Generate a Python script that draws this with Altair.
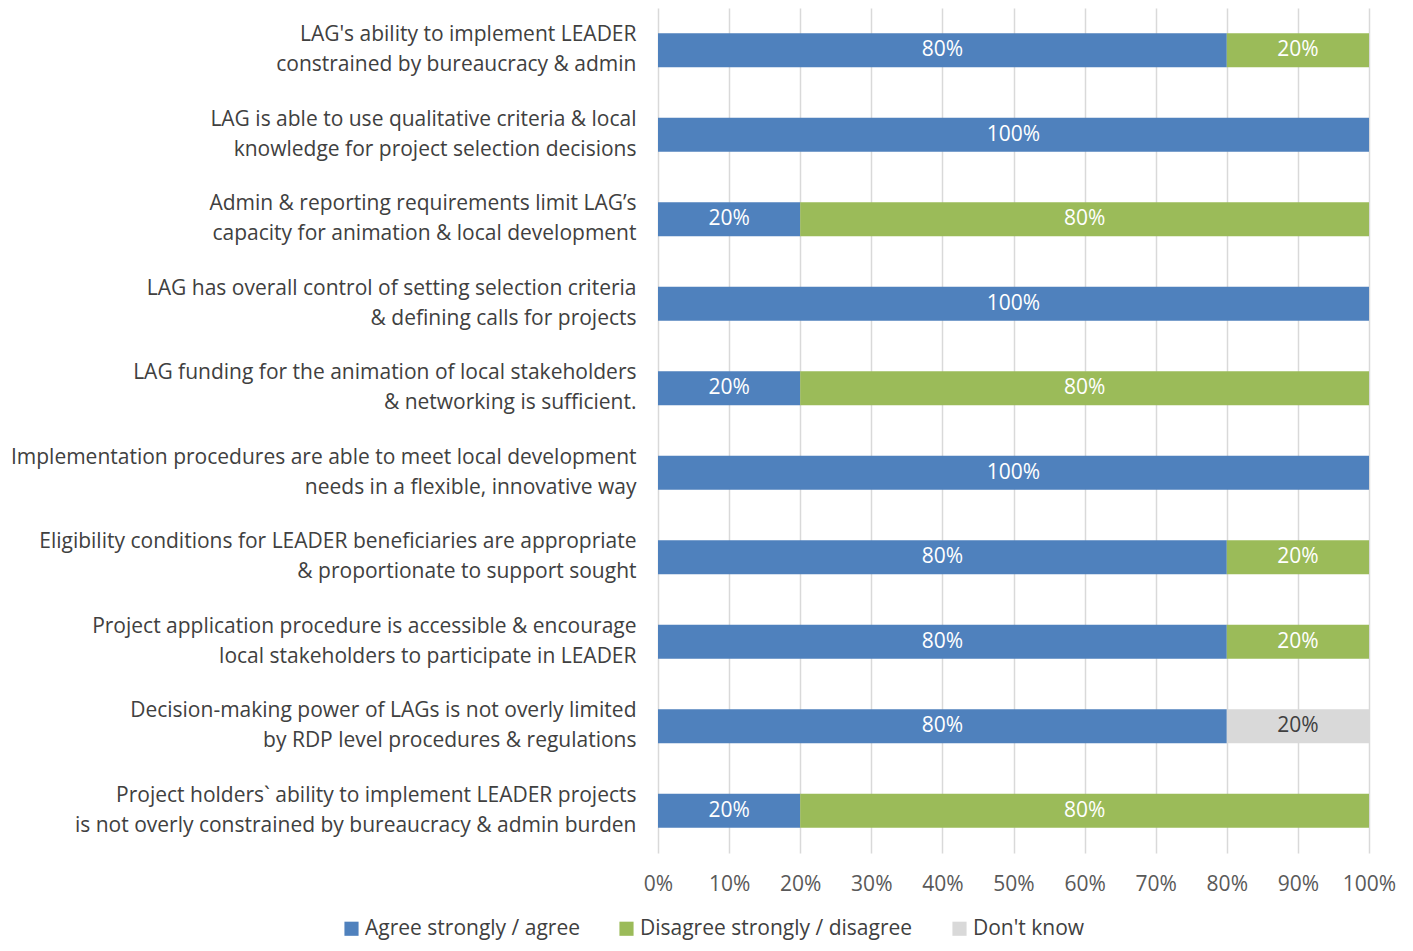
import altair as alt
import pandas as pd

questions = [
    "LAG's ability to implement LEADER|constrained by bureaucracy & admin",
    "LAG is able to use qualitative criteria & local|knowledge for project selection decisions",
    "Admin & reporting requirements limit LAG\u2019s|capacity for animation & local development",
    "LAG has overall control of setting selection criteria|& defining calls for projects",
    "LAG funding for the animation of local stakeholders|& networking is sufficient.",
    "Implementation procedures are able to meet local development|needs in a flexible, innovative way",
    "Eligibility conditions for LEADER beneficiaries are appropriate|& proportionate to support sought",
    "Project application procedure is accessible & encourage|local stakeholders to participate in LEADER",
    "Decision-making power of LAGs is not overly limited|by RDP level procedures & regulations",
    "Project holders` ability to implement LEADER projects|is not overly constrained by bureaucracy & admin burden",
]
categories = ["Agree strongly / agree", "Disagree strongly / disagree", "Don't know"]
agree = [0.8, 1.0, 0.2, 1.0, 0.2, 1.0, 0.8, 0.8, 0.8, 0.2]
disagree = [0.2, 0.0, 0.8, 0.0, 0.8, 0.0, 0.2, 0.2, 0.0, 0.8]
dont_know = [0.0, 0.0, 0.0, 0.0, 0.0, 0.0, 0.0, 0.0, 0.2, 0.0]
colors = ["#4F81BD", "#9BBB59", "#D9D9D9"]
x_ticks = [0, 0.1, 0.2, 0.3, 0.4, 0.5, 0.6, 0.7, 0.8, 0.9, 1.0]

rows = []
for i, q in enumerate(questions):
    for k, (cat, vals) in enumerate(zip(categories, [agree, disagree, dont_know])):
        if vals[i] > 0:
            rows.append({"q": q, "cat": cat, "order": k, "value": vals[i]})
df = pd.DataFrame(rows)

FONT = "Open Sans"
FS = 21

base = alt.Chart(df).transform_stack(
    stack="value", groupby=["q"], as_=["x0", "x1"],
    sort=[alt.SortField("order", order="ascending")]
).transform_calculate(mid="(datum.x0 + datum.x1) / 2")

y_enc = alt.Y(
    "q:N", sort=questions, title=None,
    scale=alt.Scale(paddingInner=0.6, paddingOuter=0.3),
    axis=alt.Axis(
        labelExpr="split(datum.label, '|')", labelAlign="right",
        labelFont=FONT, labelFontSize=FS, labelColor="#404040",
        labelLineHeight=30, labelPadding=22, labelOffset=-15,
        ticks=False, domain=False, grid=False, labelLimit=700,
    ),
)

bars = base.mark_bar().encode(
    y=y_enc,
    x=alt.X(
        "x0:Q", title=None,
        scale=alt.Scale(domain=[0, 1], nice=False),
        axis=alt.Axis(
            format=".0%", values=x_ticks, grid=True, gridColor="#D9D9D9",
            gridWidth=1.5, ticks=False, domain=False, labelFont=FONT,
            labelFontSize=FS, labelColor="#595959", labelPadding=20,
            labelOverlap=False, labelFlush=False,
        ),
    ),
    x2="x1:Q",
    color=alt.Color(
        "cat:N", sort=categories, title=None,
        scale=alt.Scale(domain=categories, range=colors),
        legend=alt.Legend(
            orient="none", direction="horizontal", legendX=-317, legendY=910,
            labelFont=FONT, labelFontSize=FS, labelColor="#404040",
            labelLimit=400, symbolType="square", symbolSize=200,
            symbolStrokeWidth=0, columnPadding=36, labelOffset=3,
        ),
    ),
    order=alt.Order("order:Q"),
)

labels = base.mark_text(font=FONT, fontSize=FS, baseline="middle").encode(
    y=alt.Y("q:N", sort=questions),
    x=alt.X("mid:Q"),
    text=alt.Text("value:Q", format=".0%"),
    color=alt.condition(
        alt.datum.cat == "Don't know", alt.value("#404040"), alt.value("white")
    ),
)

chart = (bars + labels).properties(
    width=711, height=845,
    autosize=alt.AutoSizeParams(type="none"),
    padding={"left": 650, "top": 0, "right": 30, "bottom": 90},
).configure(background="white").configure_view(stroke=None)

chart.save("out.html", embed_options={"renderer": "svg", "actions": False})
